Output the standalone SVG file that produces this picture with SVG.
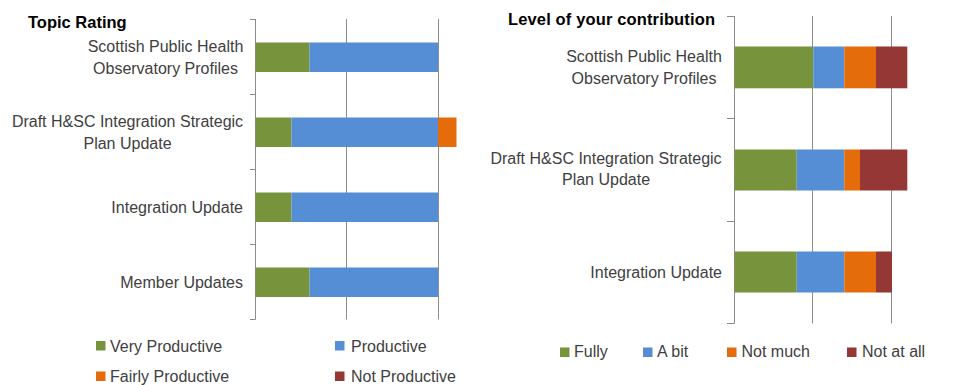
<svg xmlns="http://www.w3.org/2000/svg" width="956" height="385" viewBox="0 0 956 385">
<style>
.lbl{font-family:"Liberation Sans",Arial,sans-serif;font-size:16px;fill:#404040}
.ttl{font-family:"Liberation Sans",Arial,sans-serif;font-size:16.5px;font-weight:bold;fill:#000}
.grid{stroke:#8c8c8c;stroke-width:1;fill:none}
.g{fill:#77933C}.b{fill:#558ED5}.o{fill:#E46C0A}.r{fill:#953735}
</style>
<rect width="956" height="385" fill="#fff"/>
<g id="chart-left">
<text class="ttl" x="28" y="28">Topic Rating</text>
<g id="left-axes">
<path class="grid" d="M255.5 19V319.5M346.5 19V319.5M438.5 19V319.5M250 19.5H255.5M250 94.5H255.5M250 169.5H255.5M250 244.5H255.5M250 319.5H255.5"/>
</g>
<g id="left-row1">
<rect class="g" x="255.5" y="42.5" width="54" height="29.5"/>
<rect class="b" x="309.5" y="42.5" width="128.5" height="29.5"/>
<text class="lbl" text-anchor="middle" x="165.5" y="52">Scottish Public Health</text>
<text class="lbl" text-anchor="middle" x="165.5" y="74">Observatory Profiles </text>
</g>
<g id="left-row2">
<rect class="g" x="255.5" y="117.5" width="36" height="29.5"/>
<rect class="b" x="291.5" y="117.5" width="146.5" height="29.5"/>
<rect class="o" x="438" y="117.5" width="18.5" height="29.5"/>
<text class="lbl" text-anchor="middle" x="127.5" y="127">Draft H&amp;SC Integration Strategic</text>
<text class="lbl" text-anchor="middle" x="127.5" y="148.5">Plan Update</text>
</g>
<g id="left-row3">
<rect class="g" x="255.5" y="192.5" width="36" height="29.5"/>
<rect class="b" x="291.5" y="192.5" width="146.5" height="29.5"/>
<text class="lbl" text-anchor="end" x="243" y="213">Integration Update</text>
</g>
<g id="left-row4">
<rect class="g" x="255.5" y="267.5" width="54" height="29.5"/>
<rect class="b" x="309.5" y="267.5" width="128.5" height="29.5"/>
<text class="lbl" text-anchor="end" x="243" y="287.5">Member Updates</text>
</g>
<g id="left-legend">
<rect class="g" x="96" y="341" width="9.5" height="9.5"/>
<text class="lbl" x="110" y="352">Very Productive</text>
<rect class="b" x="335" y="341" width="9.5" height="9.5"/>
<text class="lbl" x="351" y="352">Productive</text>
<rect class="o" x="96" y="371.5" width="9.5" height="9.5"/>
<text class="lbl" x="110" y="381.5">Fairly Productive</text>
<rect class="r" x="335" y="371.5" width="9.5" height="9.5"/>
<text class="lbl" x="351" y="381.5">Not Productive</text>
</g>
</g>
<g id="chart-right">
<text class="ttl" x="508" y="25" textLength="207" lengthAdjust="spacing">Level of your contribution</text>
<g id="right-axes">
<path class="grid" d="M734.5 16V323.5M812.5 16V323.5M891.5 16V323.5M727 16.5H734.5M727 118.5H734.5M727 221.5H734.5M727 323.5H734.5"/>
</g>
<g id="right-row1">
<rect class="g" x="734.5" y="46.5" width="78.8" height="41.8"/>
<rect class="b" x="813.3" y="46.5" width="31" height="41.8"/>
<rect class="o" x="844.3" y="46.5" width="31.7" height="41.8"/>
<rect class="r" x="876" y="46.5" width="31.3" height="41.8"/>
<text class="lbl" text-anchor="middle" x="644" y="62">Scottish Public Health</text>
<text class="lbl" text-anchor="middle" x="644" y="83.5">Observatory Profiles </text>
</g>
<g id="right-row2">
<rect class="g" x="734.5" y="149.5" width="62.2" height="41"/>
<rect class="b" x="796.7" y="149.5" width="47.6" height="41"/>
<rect class="o" x="844.3" y="149.5" width="15.7" height="41"/>
<rect class="r" x="860" y="149.5" width="47.3" height="41"/>
<text class="lbl" text-anchor="middle" x="606" y="163.5">Draft H&amp;SC Integration Strategic</text>
<text class="lbl" text-anchor="middle" x="606" y="185">Plan Update</text>
</g>
<g id="right-row3">
<rect class="g" x="734.5" y="251.5" width="62.2" height="41"/>
<rect class="b" x="796.7" y="251.5" width="47.6" height="41"/>
<rect class="o" x="844.3" y="251.5" width="31.7" height="41"/>
<rect class="r" x="876" y="251.5" width="16" height="41"/>
<text class="lbl" text-anchor="end" x="722" y="277.5">Integration Update</text>
</g>
<g id="right-legend">
<rect class="g" x="560" y="347.5" width="9.5" height="9.5"/>
<text class="lbl" x="574" y="357">Fully</text>
<rect class="b" x="643" y="347.5" width="9.5" height="9.5"/>
<text class="lbl" x="657" y="357">A bit</text>
<rect class="o" x="727" y="347.5" width="9.5" height="9.5"/>
<text class="lbl" x="741.5" y="357">Not much</text>
<rect class="r" x="847" y="347.5" width="9.5" height="9.5"/>
<text class="lbl" x="862" y="357">Not at all</text>
</g>
</g>
</svg>
